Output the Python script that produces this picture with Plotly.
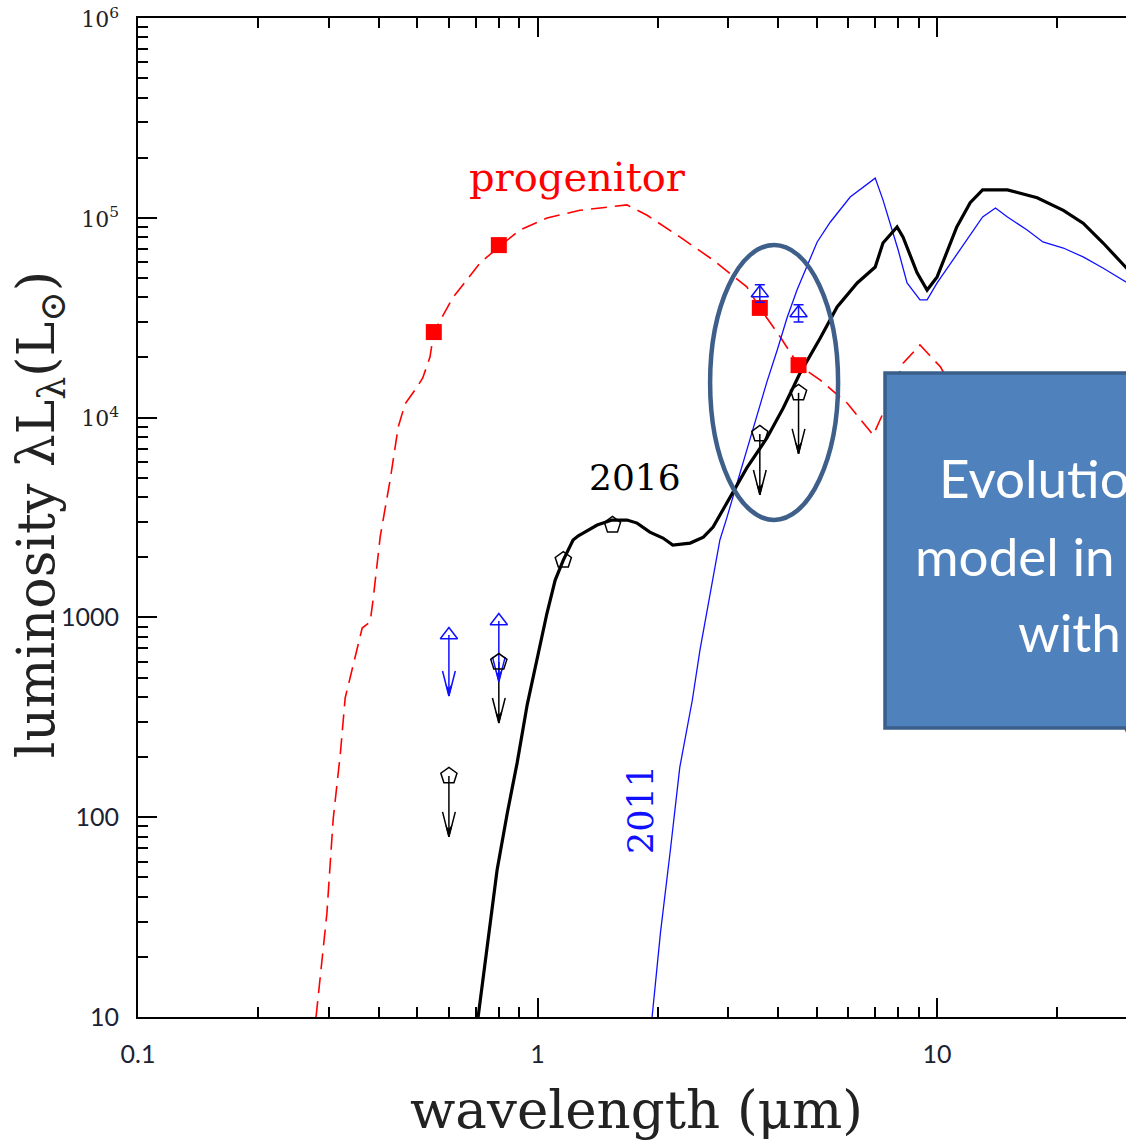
import numpy as np
import plotly.graph_objects as go

# ---- model SEDs: wavelength (micron) vs luminosity (L_sun) ----
prog_wl = [0.279, 0.282, 0.297, 0.308, 0.321, 0.330, 0.364, 0.381, 0.387, 0.404, 0.428,
           0.448, 0.466, 0.499, 0.516, 0.538, 0.55, 0.613, 0.718, 0.81, 0.904, 1.056,
           1.277, 1.675, 1.88, 2.27, 2.75, 3.34, 3.6, 4.05, 4.5, 5.10, 5.96, 6.92,
           7.32, 8.22, 9.06, 10.2, 15.0, 20.0, 30.0]
prog_lum = [10, 12.4, 33, 98, 209, 395, 885, 948, 1195, 2550, 4930,
            8980, 11700, 14200, 15800, 20100, 26800, 39700, 59400, 73000, 86900, 99800,
            109000, 116000, 103000, 80200, 61500, 45100, 35400, 25300, 18300, 15400, 11800, 8180,
            10500, 18700, 23100, 17900, 4500, 1500, 260]

m2016_wl = [0.710, 0.752, 0.792, 0.840, 0.889, 0.942, 0.997, 1.056, 1.107, 1.16, 1.227,
            1.265, 1.30, 1.41, 1.536, 1.675, 1.775, 1.91, 2.06, 2.18, 2.41, 2.60, 2.75,
            2.91, 3.09, 3.34, 3.75, 4.12, 4.54, 5.10, 5.62, 6.31, 7.00, 7.32, 7.94, 8.22,
            8.91, 9.44, 10.0, 11.2, 12.1, 13.0, 15.0, 17.8, 20.7, 23.2, 26.0, 29.7, 33.0]
m2016_lum = [10, 24, 54.4, 105, 187, 365, 612, 1052, 1538, 1936, 2440,
             2560, 2640, 2900, 3070, 3070, 2965, 2673, 2495, 2300, 2355, 2523, 2833,
             3447, 4245, 5598, 7907, 11170, 16700, 25000, 35800, 47200, 56700, 74800, 90000, 80000,
             53000, 43500, 50600, 90000, 119000, 138000, 138000, 126000, 109000, 94000, 75000,
             56800, 45000]

m2011_wl = [1.935, 2.03, 2.15, 2.27, 2.44, 2.55, 2.70, 2.86, 2.98, 3.16, 3.34, 3.54,
            3.75, 3.98, 4.21, 4.46, 4.73, 5.01, 5.40, 6.06, 7.00, 7.32, 7.99, 8.41,
            9.06, 9.44, 10.0, 11.4, 13.0, 14.0, 15.0, 16.8, 18.4, 20.7, 23.2, 26.0, 29.7, 33.0]
m2011_lum = [10, 26.3, 68.5, 178, 386, 687, 1294, 2440, 3177, 4710, 6890, 10300,
             15100, 21800, 31500, 43500, 58100, 75700, 95000, 127000, 158000, 123000, 69000, 47200,
             38800, 38800, 47200, 69000, 101000, 112000, 101000, 86900, 75700, 70600, 63700, 56100,
             47800, 42000]

# ---- photometry ----
prog_pt_wl = [0.55, 0.80, 3.6, 4.5]
prog_pt_lum = [26800, 73000, 35400, 18300]

det2016_wl = [1.16, 1.54]
det2016_lum = [1936, 2900]

lim2016_wl = [0.60, 0.80, 3.6, 4.5]
lim2016_lum = [161, 598, 8280, 13300]

lim2011_wl = [0.60, 0.80]
lim2011_lum = [816, 960]

det2011_wl = [3.6, 4.5]
det2011_lum = [42000, 33400]

x_min, x_max = 0.1, 29.7
y_min, y_max = 10, 1e6

RED = "#ff0000"
BLUE = "#1010ff"
BLACK = "#000000"


def limit_arrows(wls, lums, length=0.305, head=0.125, half=0.016):
    """Shaft + V-shaped head (open wings) and a filled sliver at the tip, in log space."""
    lx, ly, fx, fy = [], [], [], []
    for w, l in zip(wls, lums):
        t = np.log10(l) - length
        tip = 10 ** t
        base = 10 ** (t + head)
        lx += [w, w, None, w * 10 ** -half, w, w * 10 ** half, None]
        ly += [l, tip, None, base, tip, base, None]
        fx += [w * 10 ** (-half * 0.45), w, w * 10 ** (half * 0.45), w, None]
        fy += [10 ** (t + head * 0.45), tip, 10 ** (t + head * 0.45), 10 ** (t + head * 0.3), None]
    return lx, ly, fx, fy


fig = go.Figure()

fig.add_trace(go.Scatter(x=prog_wl, y=prog_lum, mode="lines",
                         line=dict(color=RED, width=1.6, dash="16px,8px")))
fig.add_trace(go.Scatter(x=m2011_wl, y=m2011_lum, mode="lines",
                         line=dict(color=BLUE, width=1.3)))
fig.add_trace(go.Scatter(x=m2016_wl, y=m2016_lum, mode="lines",
                         line=dict(color=BLACK, width=3.2)))

fig.add_trace(go.Scatter(x=prog_pt_wl, y=prog_pt_lum, mode="markers",
                         marker=dict(symbol="square", size=16, color=RED)))

for wls, lums, col in [(lim2016_wl, lim2016_lum, BLACK), (lim2011_wl, lim2011_lum, BLUE)]:
    lx, ly, fx, fy = limit_arrows(wls, lums)
    fig.add_trace(go.Scatter(x=lx, y=ly, mode="lines", line=dict(color=col, width=1.5)))
    fig.add_trace(go.Scatter(x=fx, y=fy, mode="lines", fill="toself", fillcolor=col,
                             line=dict(color=col, width=1)))

fig.add_trace(go.Scatter(x=det2016_wl + lim2016_wl, y=det2016_lum + lim2016_lum, mode="markers",
                         marker=dict(symbol="pentagon-open", size=17, color=BLACK,
                                     line=dict(width=1.5, color=BLACK))))
det2011_err = list(np.array(det2011_lum) * 0.1)
fig.add_trace(go.Scatter(x=det2011_wl, y=det2011_lum, mode="markers",
                         error_y=dict(type="data", array=det2011_err, color=BLUE,
                                      thickness=1.5, width=5),
                         marker=dict(symbol="triangle-up-open", size=15, color=BLUE,
                                     line=dict(width=1.5, color=BLUE))))
fig.add_trace(go.Scatter(x=lim2011_wl, y=lim2011_lum, mode="markers",
                         marker=dict(symbol="triangle-up-open", size=15, color=BLUE,
                                     line=dict(width=1.5, color=BLUE))))

serif = "DejaVu Serif"
annotations = [
    dict(x=0.0989, y=5.204, xref="x", yref="y", text="progenitor", showarrow=False,
         xanchor="center", yanchor="middle", font=dict(family=serif, size=40, color=RED)),
    dict(x=0.244, y=3.698, xref="x", yref="y", text="2016", showarrow=False,
         xanchor="center", yanchor="middle", font=dict(family=serif, size=36, color=BLACK)),
    dict(x=0.259, y=2.036, xref="x", yref="y", text="2011", showarrow=False, textangle=-90,
         xanchor="center", yanchor="middle", font=dict(family=serif, size=35, color=BLUE)),
    dict(x=0.505, y=-0.093, xref="paper", yref="paper", text="wavelength (μm)",
         xanchor="center", yanchor="middle",
         showarrow=False, font=dict(family=serif, size=53, color="#222222")),
    dict(x=-0.099, y=0.5025, xref="paper", yref="paper",
         text="luminosity λL<sub>λ</sub>(L<sub>⊙</sub>)", textangle=-90,
         xanchor="center", yanchor="middle",
         showarrow=False, font=dict(family=serif, size=52, color="#222222")),
]

# text panel lines
panel_font = dict(family="Lato", size=53, color="white")
for txt, px_x, px_y in [("Evolution", 937, 478), ("model in", 913, 555), ("with", 1016, 631)]:
    annotations.append(dict(x=(px_x - 138) / 988, y=(1017 - px_y) / 999, xref="paper",
                            yref="paper", xanchor="left", yanchor="middle", text=txt,
                            showarrow=False, font=panel_font))

shapes = [
    dict(type="circle", xref="x", yref="y", x0=2.703, x1=5.652, y0=3073, y1=73100,
         line=dict(color="#3e5f8a", width=4.5), layer="above"),
    dict(type="rect", xref="paper", yref="paper", x0=(885 - 138) / 988, x1=1.08,
         y0=(1017 - 728) / 999, y1=(1017 - 373) / 999,
         fillcolor="#4f81bd", line=dict(color="#3a5f8b", width=3.5), layer="above"),
]

tick_font = dict(family="Lato", size=25, color="#1a2233")
sup = lambda e: f"<span style='font-family:DejaVu Serif;font-size:22px;color:#222'>10<sup>{e}</sup></span>"

fig.update_layout(
    width=1126, height=1140,
    margin=dict(l=138, r=0, t=18, b=123),
    paper_bgcolor="white", plot_bgcolor="white",
    showlegend=False,
    annotations=annotations,
    shapes=shapes,
    xaxis=dict(type="log", range=[np.log10(x_min), np.log10(x_max)],
               showline=True, linecolor="black", linewidth=2, mirror="ticks",
               ticks="inside", ticklen=19, tickwidth=1.5, tickcolor="black",
               tickvals=[0.1, 1, 10], ticktext=["0.1", "1", "10"],
               minor=dict(ticks="inside", ticklen=10, tickwidth=1.5, tickcolor="black",
                          dtick="D1", showgrid=False),
               showgrid=False, zeroline=False, tickfont=tick_font, ticklabelstandoff=14),
    yaxis=dict(type="log", range=[np.log10(y_min), np.log10(y_max)],
               showline=True, linecolor="black", linewidth=2, mirror=False,
               ticks="inside", ticklen=19, tickwidth=1.5, tickcolor="black",
               tickvals=[10, 100, 1000, 1e4, 1e5, 1e6],
               ticktext=["10", "100", "1000", sup(4), sup(5), sup(6)],
               minor=dict(ticks="inside", ticklen=10, tickwidth=1.5, tickcolor="black",
                          dtick="D1", showgrid=False),
               showgrid=False, zeroline=False, tickfont=tick_font, ticklabelstandoff=12),
    yaxis2=dict(type="log", range=[np.log10(y_min), np.log10(y_max)], overlaying="y",
                side="right", anchor="x", showline=False, ticks="inside", ticklen=8,
                tickwidth=1.5, tickcolor="black", dtick=1, showticklabels=False,
                showgrid=False, zeroline=False),
)

fig.write_html("out.html")
